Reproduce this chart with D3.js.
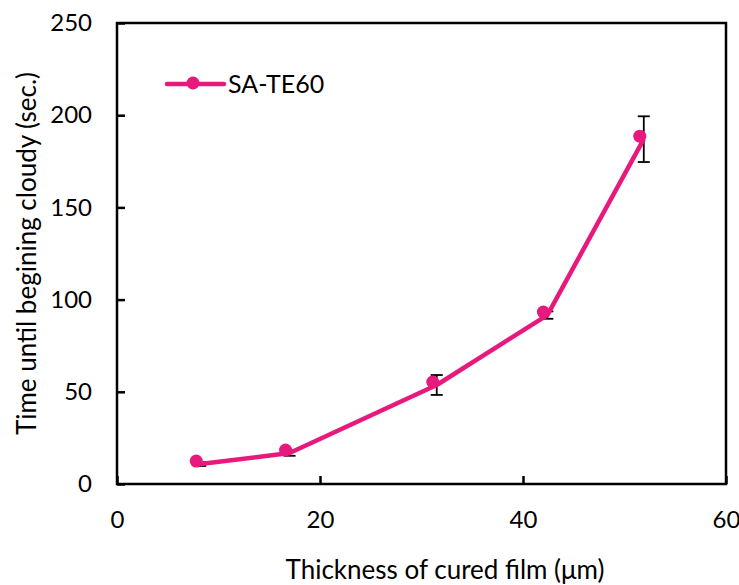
<!DOCTYPE html>
<html>
<head>
<meta charset="utf-8">
<script src="https://cdn.jsdelivr.net/npm/d3@7"></script>
<style>
  body { margin: 0; background: #fff; }
  text { font-family: Lato, "Open Sans", sans-serif; fill: #000; }
</style>
</head>
<body>
<div id="chart"></div>
<script>
// data
const thickness = [8.2, 17.0, 31.5, 42.4, 51.9];
const cloudTime = [10.8, 16.8, 53.7, 91.6, 187.0];
const errorBar = [1.0, 1.5, 5.4, 2.0, 12.4];
const xTicks = [0, 20, 40, 60];
const yTicks = [0, 50, 100, 150, 200, 250];
const seriesName = "SA-TE60";

const width = 739, height = 585;
const margin = {top: 23, right: 13, bottom: 101, left: 117};
const pink = "#e8197d";

const svg = d3.select("#chart").append("svg")
    .attr("width", width)
    .attr("height", height);

const x = d3.scaleLinear().domain([0, 60]).range([margin.left, width - margin.right]);
const y = d3.scaleLinear().domain([0, 250]).range([height - margin.bottom, margin.top]);

// frame
svg.append("rect")
    .attr("x", x(0)).attr("y", y(250))
    .attr("width", x(60) - x(0)).attr("height", y(0) - y(250))
    .attr("fill", "none").attr("stroke", "#000").attr("stroke-width", 2.5);

// axes, ticks pointing inward
const xAxis = svg.append("g")
    .attr("transform", `translate(0,${y(0)})`)
    .call(d3.axisBottom(x).tickValues(xTicks).tickSizeInner(-8).tickSizeOuter(0).tickPadding(27));
const yAxis = svg.append("g")
    .attr("transform", `translate(${x(0)},0)`)
    .call(d3.axisLeft(y).tickValues(yTicks).tickSizeInner(-8).tickSizeOuter(0).tickPadding(25));

[xAxis, yAxis].forEach(g => {
    g.select(".domain").remove();
    g.selectAll(".tick line").attr("stroke", "#000").attr("stroke-width", 2.5);
    g.selectAll(".tick text").attr("font-size", 24).attr("font-family", "Lato, sans-serif");
});

// axis titles
svg.append("text")
    .attr("x", 445).attr("y", 579)
    .attr("text-anchor", "middle")
    .attr("font-size", 26)
    .text("Thickness of cured film (\u03bcm)");

svg.append("text")
    .attr("transform", `translate(36,${(y(0) + y(250)) / 2}) rotate(-90)`)
    .attr("text-anchor", "middle")
    .attr("font-size", 26)
    .text("Time until begining cloudy (sec.)");

const pts = thickness.map((t, i) => ({x: t, y: cloudTime[i], e: errorBar[i]}));

// error bars
const eb = svg.append("g").attr("stroke", "#000").attr("stroke-width", 1.8);
pts.forEach(p => {
    eb.append("line").attr("x1", x(p.x)).attr("x2", x(p.x)).attr("y1", y(p.y - p.e)).attr("y2", y(p.y + p.e));
    eb.append("line").attr("x1", x(p.x) - 6).attr("x2", x(p.x) + 6).attr("y1", y(p.y - p.e)).attr("y2", y(p.y - p.e));
    eb.append("line").attr("x1", x(p.x) - 6).attr("x2", x(p.x) + 6).attr("y1", y(p.y + p.e)).attr("y2", y(p.y + p.e));
});

// line
svg.append("path")
    .datum(pts)
    .attr("fill", "none")
    .attr("stroke", pink)
    .attr("stroke-width", 4.5)
    .attr("stroke-linejoin", "round")
    .attr("d", d3.line().x(d => x(d.x)).y(d => y(d.y)));

// markers (sit slightly up-left of the line in the original)
svg.append("g")
    .attr("transform", "translate(-4,-3)")
    .selectAll("circle")
    .data(pts)
    .enter().append("circle")
    .attr("cx", d => x(d.x))
    .attr("cy", d => y(d.y))
    .attr("r", 6.5)
    .attr("fill", pink);

// legend
const lg = svg.append("g").attr("transform", "translate(167,84)");
lg.append("line").attr("x1", 0).attr("x2", 57).attr("y1", 0).attr("y2", 0)
    .attr("stroke", pink).attr("stroke-width", 4.5).attr("stroke-linecap", "round");
lg.append("circle").attr("cx", 26).attr("cy", -1).attr("r", 6.5).attr("fill", pink);
lg.append("text").attr("x", 61).attr("y", 93).attr("y", 9).attr("font-size", 25).text(seriesName);
</script>
</body>
</html>
